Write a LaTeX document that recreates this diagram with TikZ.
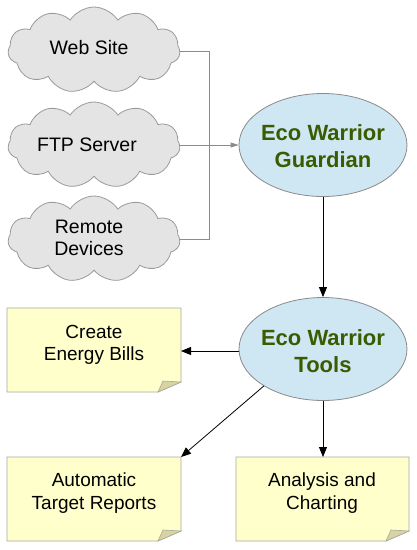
\documentclass[tikz,border=0pt]{standalone}
\usepackage{fontspec}
\setmainfont{Liberation Sans}
\usetikzlibrary{shapes.symbols,shapes.geometric,arrows.meta}
\definecolor{cloudfill}{HTML}{E4E4E4}
\definecolor{cloudline}{HTML}{9A9A9A}
\definecolor{ellfill}{HTML}{CFE6F3}
\definecolor{ellline}{HTML}{8A8A8A}
\definecolor{ecogreen}{HTML}{3A5C00}
\definecolor{notefill}{HTML}{FFFFCC}
\definecolor{noteline}{HTML}{A8A8A0}
\definecolor{foldfill}{HTML}{D8D4A2}
\definecolor{grayline}{HTML}{8C8C8C}
\tikzset{
  cloudbox/.style={cloud, cloud puffs=11, cloud puff arc=115, aspect=2.1,
    draw=cloudline, fill=cloudfill, line width=0.8pt,
    minimum width=172pt, minimum height=86pt, inner sep=0pt},
  cloudtext/.style={align=center, inner sep=0pt, font=\fontsize{19.5}{22}\selectfont},
  ellbox/.style={ellipse, draw=ellline, fill=ellfill, line width=0.8pt,
    minimum width=168pt, minimum height=103pt, inner sep=0pt},
  elltext/.style={align=center, inner sep=0pt, text=ecogreen,
    font=\bfseries\fontsize{22}{27.5}\selectfont},
  notetext/.style={align=center, inner sep=0pt, font=\fontsize{19}{22.5}\selectfont},
  noteshape/.style={draw=noteline, fill=notefill, line width=0.8pt},
  foldshape/.style={draw=noteline, fill=foldfill, line width=0.6pt},
  grayarrow/.style={draw=grayline, line width=0.8pt},
  blackarrow/.style={draw=black, line width=0.8pt, -{Triangle[length=10pt,width=8pt]}}
}
\newcommand{\mynote}[5]{% name, x1, y1, x2, y2
  \coordinate (#1-nw) at (#2,#3);
  \coordinate (#1-se) at (#4,#5);
  \path[noteshape] (#2,#3) -- (#4,#3) -- (#4,#5-10) -- (#4-23,#5) -- (#2,#5) -- cycle;
  \path[foldshape] (#4,#5-10) -- (#4-18,#5-11) -- (#4-23,#5) -- cycle;
}
\begin{document}
\begin{tikzpicture}[x=1pt,y=-1pt]
\useasboundingbox (0,0) rectangle (416,550);
% clouds
\node[cloudbox] (web) at (94,50) {};
\node[cloudtext] (webt) at (89,48) {Web Site};
\node[cloudbox] (ftp) at (94,145) {};
\node[cloudtext] (ftpt) at (87,145) {FTP Server};
\node[cloudbox] (rem) at (94,239) {};
\node[cloudtext] (remt) at (89,238) {Remote\\Devices};
% ellipses
\node[ellbox] (guard) at (323,145) {};
\node[elltext] (guardt) at (323,146) {Eco Warrior\\Guardian};
\node[ellbox] (tools) at (323,349) {};
\node[elltext] (toolst) at (323,351) {Eco Warrior\\Tools};
% notes
\mynote{bills}{7}{308}{181}{392}
\node[notetext] (billst) at (94,345) {Create\\Energy Bills};
\mynote{rep}{7}{457}{181}{541}
\node[notetext] (rept) at (94,493) {Automatic\\Target Reports};
\mynote{ana}{236}{457}{409}{541}
\node[notetext] (anat) at (322,493) {Analysis and\\Charting};
% connectors
\draw[grayarrow] (web.east |- 0,51) -- (209,51) -- (209,239) -- (rem.east |- 0,239);
\draw[grayarrow, -{Triangle[length=8pt,width=5pt]}] (ftp.east |- 0,145) -- (guard.west);
\draw[blackarrow] (guard.south) -- (tools.north);
\draw[blackarrow] (tools.west |- 0,351) -- (181,351);
\draw[blackarrow] (tools.-148) -- (181,457);
\draw[blackarrow] (tools.south) -- (323,457);
\end{tikzpicture}
\end{document}
